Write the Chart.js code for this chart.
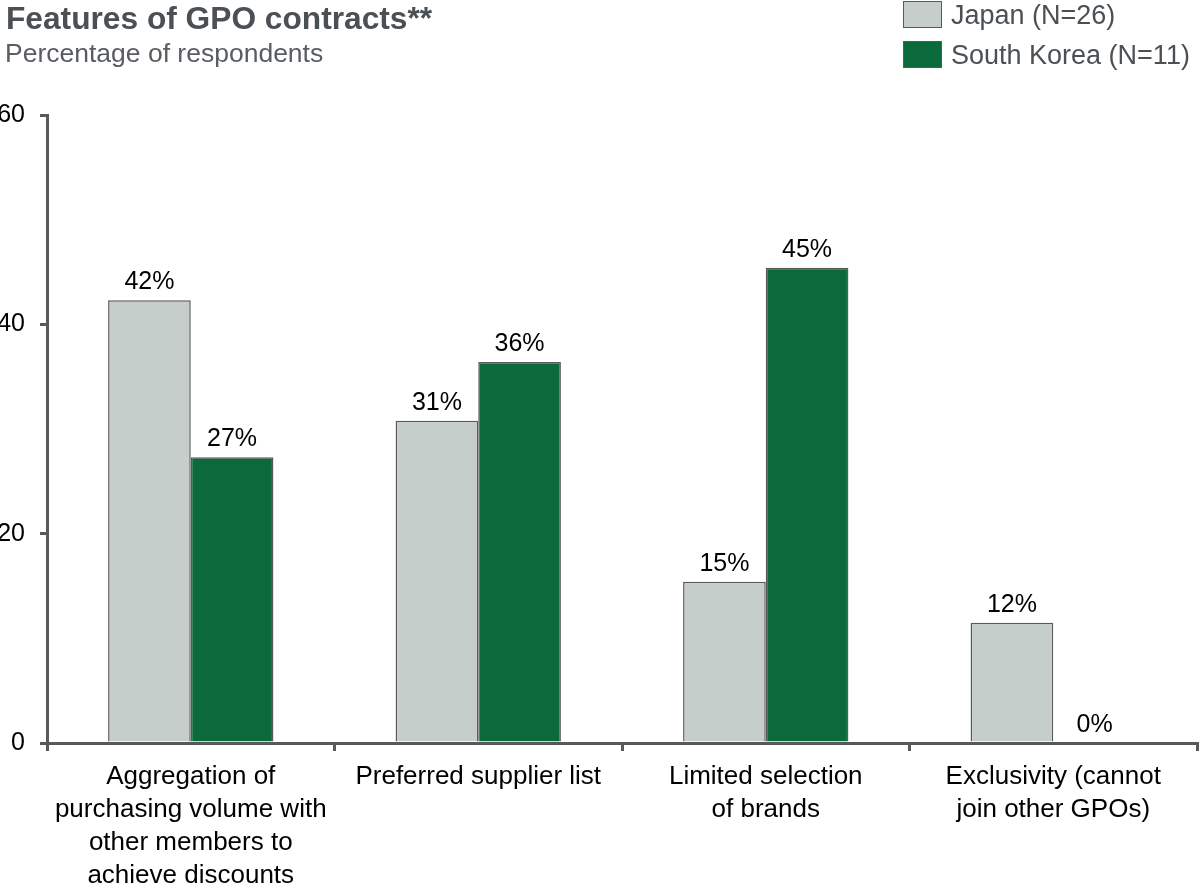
<!DOCTYPE html>
<html>
<head>
<meta charset="utf-8">
<script src="https://cdn.jsdelivr.net/npm/chart.js@4.4.1/dist/chart.umd.min.js"></script>
<style>
  body { margin: 0; background: #fff; font-family: "Liberation Sans", Arial, sans-serif; }
  #wrap { position: relative; width: 1202px; height: 886px; overflow: hidden; }
  #myBarChart { position: absolute; left: 0; top: 0; }
  .title { position: absolute; left: 6px; top: 2px; font-size: 31.7px; line-height: 32px; font-weight: bold; color: #4b5055; white-space: nowrap; }
  .subtitle { position: absolute; left: 5px; top: 39px; font-size: 26.5px; line-height: 28px; color: #595d62; white-space: nowrap; }
  .legend-item { position: absolute; left: 903px; height: 28px; }
  .legend-item .box { position: absolute; left: 0; top: 0; width: 37px; height: 25px; border: 1.5px solid #595959; }
  .legend-item .label { position: absolute; left: 48px; top: 0; font-size: 27px; line-height: 29px; color: #4b5055; white-space: nowrap; }
</style>
</head>
<body>
<div id="wrap">
  <canvas id="myBarChart" width="1202" height="886"></canvas>
  <div class="title">Features of GPO contracts**</div>
  <div class="subtitle">Percentage of respondents</div>
  <div class="legend-item" style="top:1px"><div class="box" style="background:#c6cecc"></div><div class="label">Japan (N=26)</div></div>
  <div class="legend-item" style="top:41px"><div class="box" style="background:#0a6a3b"></div><div class="label">South Korea (N=11)</div></div>
</div>
<script>
// chart data
var categories = [
    ['Aggregation of', 'purchasing volume with', 'other members to', 'achieve discounts'],
    'Preferred supplier list',
    ['Limited selection', 'of brands'],
    ['Exclusivity (cannot', 'join other GPOs)']
];
var seriesNames = ['Japan (N=26)', 'South Korea (N=11)'];
var japanValues = [42.3, 30.8, 15.4, 11.5];
var koreaValues = [27.3, 36.4, 45.4, 0];
var yTicks = [0, 20, 40, 60];

var axisColor = '#595959';

// draws the % labels above each bar
var barLabels = {
    id: 'barLabels',
    afterDatasetsDraw: function (chart) {
        var ctx = chart.ctx;
        ctx.save();
        ctx.font = '25px "Liberation Sans", Arial, sans-serif';
        ctx.fillStyle = '#000';
        ctx.textAlign = 'center';
        ctx.textBaseline = 'alphabetic';
        chart.data.datasets.forEach(function (ds, i) {
            chart.getDatasetMeta(i).data.forEach(function (bar, j) {
                ctx.fillText(Math.round(ds.data[j]) + '%', bar.x, bar.y - 11);
            });
        });
        ctx.restore();
    }
};

document.addEventListener('DOMContentLoaded', function () {
    var ctx = document.getElementById('myBarChart').getContext('2d');
    new Chart(ctx, {
        type: 'bar',
        data: {
            labels: categories,
            datasets: [{
                label: seriesNames[0],
                data: japanValues,
                backgroundColor: '#c6cecc',
                borderColor: axisColor,
                borderWidth: 1.5
            }, {
                label: seriesNames[1],
                data: koreaValues,
                backgroundColor: '#0a6a3b',
                borderColor: axisColor,
                borderWidth: 1.5
            }]
        },
        options: {
            responsive: false,
            animation: false,
            layout: { padding: { top: 115, right: 5, left: 0, bottom: 0 } },
            plugins: {
                legend: { display: false },
                tooltip: { enabled: false }
            },
            datasets: {
                bar: { categoryPercentage: 0.575, barPercentage: 1 }
            },
            scales: {
                x: {
                    grid: { offset: true, drawOnChartArea: false, drawTicks: true, tickLength: 8, color: axisColor, lineWidth: 3 },
                    border: { color: axisColor, width: 3 },
                    ticks: {
                        color: '#000',
                        padding: 9,
                        maxRotation: 0,
                        autoSkip: false,
                        font: { family: '"Liberation Sans", Arial, sans-serif', size: 26, lineHeight: 1.27 }
                    },
                    afterFit: function (scale) { scale.height = 143; }
                },
                y: {
                    min: 0,
                    max: 60,
                    afterBuildTicks: function (scale) {
                        scale.ticks = yTicks.map(function (v) { return { value: v }; });
                    },
                    grid: { drawOnChartArea: false, drawTicks: true, tickLength: 7, color: axisColor, lineWidth: 3 },
                    border: { color: axisColor, width: 3 },
                    ticks: {
                        color: '#000',
                        padding: 15,
                        font: { family: '"Liberation Sans", Arial, sans-serif', size: 25 }
                    },
                    afterFit: function (scale) { scale.width = 47; }
                }
            }
        },
        plugins: [barLabels]
    });
});
</script>
</body>
</html>
